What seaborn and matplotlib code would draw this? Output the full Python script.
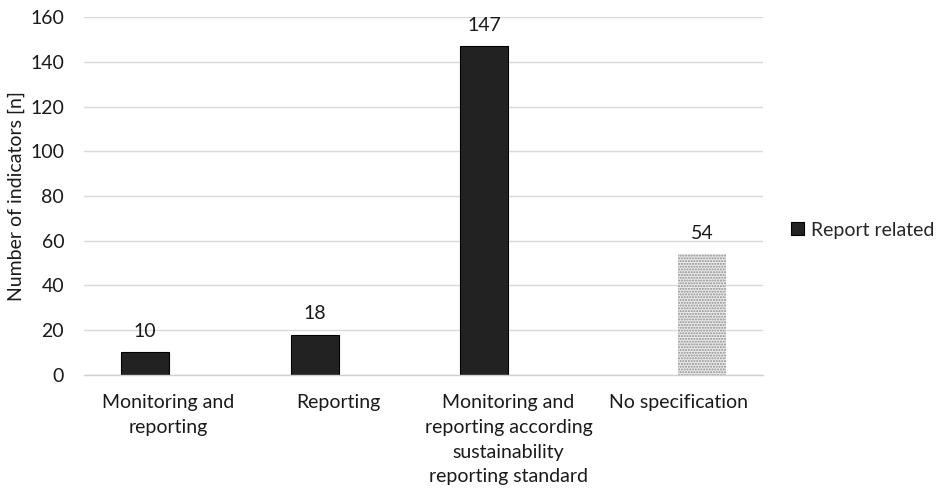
import matplotlib
matplotlib.use("Agg")
import matplotlib.pyplot as plt
import seaborn as sns
import pandas as pd
import numpy as np
from matplotlib.patches import Patch

categories = [
    "Monitoring and\nreporting",
    "Reporting",
    "Monitoring and\nreporting according\nsustainability\nreporting standard",
    "No specification",
]
report_related = [10, 18, 147, np.nan]
no_specification = [np.nan, np.nan, np.nan, 54]
series_names = ["Report related", "No specification"]

df = pd.DataFrame({
    "category": categories * 2,
    "series": [series_names[0]] * 4 + [series_names[1]] * 4,
    "value": report_related + no_specification,
})

sns.set_theme(style="white")
plt.rcParams["font.family"] = ["Lato", "DejaVu Sans"]
FS = 14

fig = plt.figure(figsize=(9.4, 4.9), dpi=100)
ax = fig.add_axes([0.089, 0.235, 0.723, 0.73])

sns.barplot(
    data=df, x="category", y="value", hue="series",
    hue_order=series_names, order=categories,
    palette=["#222222", "#ececec"], width=0.565, dodge=True,
    legend=False, ax=ax, saturation=1,
)

dark, dotted = ax.containers[0], ax.containers[1]
for p in dark:
    p.set_edgecolor("#000000")
    p.set_linewidth(0.8)
for p in dotted:
    p.set_hatch("......")
    p.set_edgecolor("#8c8c8c")
    p.set_linewidth(0)

for c in ax.containers:
    labels = ["" if np.isnan(v) else f"{v:.0f}" for v in c.datavalues]
    ax.bar_label(c, labels=labels, padding=9, fontsize=FS, color="#1a1a1a")

ax.set_ylim(0, 160)
ax.set_yticks(range(0, 161, 20))
ax.yaxis.grid(True, color="#d9d9d9", linewidth=1)
ax.set_axisbelow(True)
for s in ["top", "right", "left"]:
    ax.spines[s].set_visible(False)
ax.spines["bottom"].set_color("#d0d0d0")
ax.spines["bottom"].set_linewidth(1)
ax.tick_params(axis="both", length=0, labelsize=FS, colors="#1a1a1a")
ax.tick_params(axis="y", pad=14)
ax.tick_params(axis="x", pad=14)
for t in ax.get_xticklabels():
    t.set_linespacing(1.55)
ax.set_xlabel("")
ax.set_ylabel("Number of indicators [n]", fontsize=FS, color="#1a1a1a", labelpad=4)

handle = Patch(facecolor="#222222", edgecolor="#000000", linewidth=0.8)
fig.legend(handles=[handle], labels=["Report related"], loc="center left",
           bbox_to_anchor=(0.823, 0.53), frameon=False, fontsize=FS,
           handlelength=0.65, handleheight=0.65, handletextpad=0.35)

fig.savefig("out.png", dpi=100, facecolor="white")
